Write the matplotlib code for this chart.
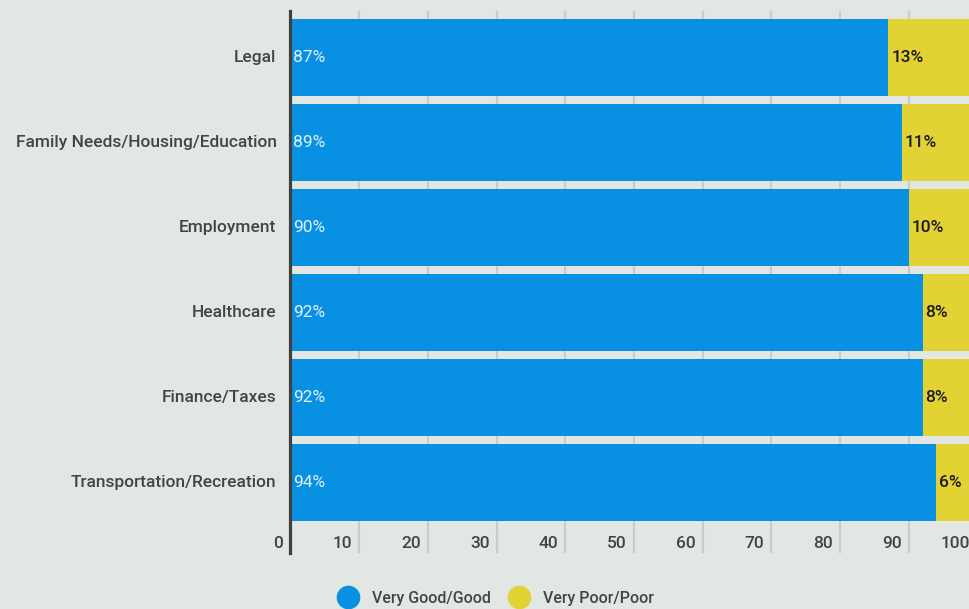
import matplotlib
matplotlib.use("Agg")
import matplotlib.pyplot as plt
from matplotlib.transforms import blended_transform_factory, ScaledTranslation
from matplotlib.lines import Line2D

categories = ["Legal", "Family Needs/Housing/Education", "Employment",
              "Healthcare", "Finance/Taxes", "Transportation/Recreation"]
good = [87, 89, 90, 92, 92, 94]
poor = [13, 11, 10, 8, 8, 6]
x_ticks = [0, 10, 20, 30, 40, 50, 60, 70, 80, 90, 100]
series_names = ["Very Good/Good", "Very Poor/Poor"]

BG = "#e2e7e3"
BLUE = "#0890e2"
YELLOW = "#e2d233"
TXT = "#444444"

plt.rcParams['font.family'] = ['Roboto', 'DejaVu Sans']

fig = plt.figure(figsize=(9.7, 6.09), dpi=100, facecolor=BG)
ax = fig.add_axes([290.5/970, (609-553)/609, 687/970, (553-11)/609])
ax.set_facecolor(BG)

y = list(range(len(categories)))
h = 0.906
ax.barh(y, good, height=h, color=BLUE, zorder=3)
ax.barh(y, poor, left=good, height=h, color=YELLOW, zorder=3)

ax.set_xlim(0, 100)
ax.set_ylim(5 + 0.829, -0.547)

for v in x_ticks[1:]:
    ax.axvline(v, color="#c9ccc9", lw=1.6, zorder=1)

for s in ["top", "right", "bottom"]:
    ax.spines[s].set_visible(False)
ax.spines["left"].set_color("#404040")
ax.spines["left"].set_linewidth(2.3)
ax.spines["left"].set_zorder(5)
ax.set_xticks([])
ax.set_yticks(y)
ax.set_yticklabels(categories, fontsize=12.5, color=TXT, fontweight='medium')
ax.tick_params(axis='y', length=0, pad=10)
for lbl in ax.get_yticklabels():
    lbl.set_transform(lbl.get_transform() + ScaledTranslation(0, 1.5/100, fig.dpi_scale_trans))

trans = blended_transform_factory(ax.transData, ax.transAxes)
off = ScaledTranslation(-7/100, 0, fig.dpi_scale_trans)
for v in x_ticks:
    ax.text(v, 10/542, str(v), transform=trans + off, ha='right', va='center',
            fontsize=12.5, color=TXT, fontweight='medium', zorder=6, clip_on=False)

toff_b = ScaledTranslation(3/100, 0, fig.dpi_scale_trans)
for i, (g, p) in enumerate(zip(good, poor)):
    ax.text(0, i, f"{g}%", transform=ax.transData + toff_b, ha='left', va='center',
            fontsize=12.5, color="#e3f1fc", zorder=6)
    ax.text(g, i, f"{p}%", transform=ax.transData + toff_b, ha='left', va='center',
            fontsize=12.5, color="#1a1a1a", fontweight='medium', zorder=6, clip_on=False)

handles = [Line2D([], [], marker='o', ls='none', markersize=16, color=BLUE),
           Line2D([], [], marker='o', ls='none', markersize=16, color=YELLOW)]
leg = fig.legend(handles, series_names, loc='center', bbox_to_anchor=(496/970, 1 - 598/609),
                 ncol=2, frameon=False, fontsize=11.5, handletextpad=0.9, columnspacing=1.15,
                 handlelength=1.2)
for t in leg.get_texts():
    t.set_color(TXT)
    t.set_fontweight('medium')

fig.savefig("out.png", dpi=100, facecolor=BG)
